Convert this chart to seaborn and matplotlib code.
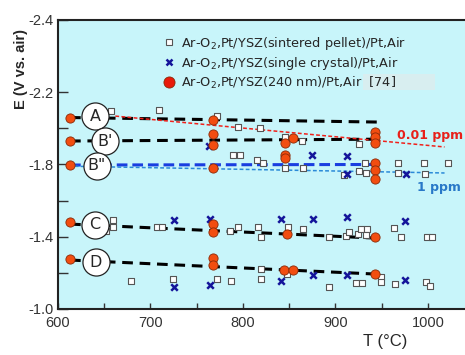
import matplotlib
matplotlib.use("Agg")
import matplotlib.pyplot as plt
from matplotlib.lines import Line2D
from matplotlib.patches import Rectangle
import seaborn as sns

# ---- data -------------------------------------------------------------
# Ar-O2,Pt/YSZ(sintered pellet)/Pt,Air  (open squares)
pellet_T = [657, 709, 772, 795, 789, 797, 818, 845, 864, 926, 815, 822, 845, 865,
            909, 926, 932, 933, 968, 968, 996, 997, 1022,
            659, 659, 652, 707, 713, 786, 795, 816, 820, 849, 865, 893, 911, 915,
            924, 928, 934, 933, 963, 971, 999, 1004,
            679, 724, 772, 787, 820, 820, 848, 893, 922, 929, 949, 949, 964, 998, 1002]
pellet_E = [-2.096, -2.102, -2.068, -2.008, -1.852, -1.852, -2.002, -1.952, -1.930,
            -1.913, -1.825, -1.808, -1.780, -1.780, -1.742, -1.764, -1.808, -1.753,
            -1.808, -1.753, -1.808, -1.747, -1.808,
            -1.493, -1.454, -1.432, -1.454, -1.454, -1.432, -1.454, -1.454, -1.398,
            -1.454, -1.443, -1.398, -1.404, -1.426, -1.415, -1.443, -1.443, -1.410,
            -1.448, -1.398, -1.398, -1.398,
            -1.155, -1.166, -1.166, -1.155, -1.221, -1.166, -1.194, -1.122, -1.144,
            -1.144, -1.177, -1.149, -1.138, -1.149, -1.127]

# Ar-O2,Pt/YSZ(single crystal)/Pt,Air  (blue crosses)
crystal_T = [763, 875, 913, 913, 976,
             725, 764, 841, 876, 912, 975,
             725, 764, 841, 876, 912, 975]
crystal_E = [-1.902, -1.852, -1.847, -1.747, -1.747,
             -1.493, -1.498, -1.498, -1.498, -1.509, -1.487,
             -1.122, -1.133, -1.155, -1.188, -1.188, -1.160]

# Ar-O2,Pt/YSZ(240 nm)/Pt,Air [74]  (red circles)
film_T = [613, 613, 613, 613, 613,
          768, 768, 768, 768, 768, 768, 768, 768,
          845, 845, 845, 854, 848, 844, 854,
          943, 943, 943, 943, 943, 943, 943, 943]
film_E = [-2.057, -1.930, -1.797, -1.482, -1.277,
          -2.046, -1.969, -1.908, -1.781, -1.470, -1.426, -1.282, -1.243,
          -1.919, -1.852, -1.836, -1.947, -1.415, -1.216, -1.216,
          -1.980, -1.952, -1.919, -1.808, -1.770, -1.720, -1.398, -1.194]

# trend lines of the 240 nm series
trend_names = ["A", "B'", 'B"', "C", "D"]
trend_T0 = [613, 613, 613, 613, 613]
trend_T1 = [945, 943, 941, 941, 941]
trend_E0 = [-2.060, -1.930, -1.797, -1.470, -1.271]
trend_E1 = [-2.035, -1.940, -1.800, -1.393, -1.194]

# oxygen partial-pressure reference lines
ppm_labels = ["0.01 ppm", "1 ppm"]
ppm_T0 = [662, 618]
ppm_T1 = [1018, 1018]
ppm_E0 = [-2.068, -1.790]
ppm_E1 = [-1.897, -1.753]

x_ticks = [600, 700, 800, 900, 1000]
x_tick_labels = ["600", "700", "800", "900", "1000"]
y_ticks = [-2.6, -2.2, -1.8, -1.4, -1.0]
y_tick_labels = ["-2.4", "-2.2", "-1.8", "-1.4", "-1.0"]

legend_labels = [r"Ar-O$_2$,Pt/YSZ(sintered pellet)/Pt,Air",
                 r"Ar-O$_2$,Pt/YSZ(single crystal)/Pt,Air",
                 r"Ar-O$_2$,Pt/YSZ(240 nm)/Pt,Air  [74]"]

# ---- figure ----------------------------------------------------------
sns.set_theme(style="ticks")
plt.rcParams["font.family"] = ["DejaVu Sans"]
axis_font = ["Liberation Sans", "DejaVu Sans"]

fig = plt.figure(figsize=(4.65, 3.55), dpi=100)
ax = fig.add_axes([0.1247, 0.1296, 0.885, 0.8141])
ax.set_facecolor("#c8f5fa")

ax.set_xlim(600, 1045)
ax.set_ylim(-1.0, -2.6)

# trend lines
for t0, t1, e0, e1, name in zip(trend_T0, trend_T1, trend_E0, trend_E1, trend_names):
    if name == 'B"':
        ax.plot([t0, t1], [e0, e1], color="#1a3ee0", lw=2.2, dashes=(3.5, 1.6), zorder=3)
    else:
        ax.plot([t0, t1], [e0, e1], color="black", lw=2.2, dashes=(3.5, 2.2), zorder=3)

ppm_colors = ["#f0201a", "#2a8ad8"]
for t0, t1, e0, e1, c in zip(ppm_T0, ppm_T1, ppm_E0, ppm_E1, ppm_colors):
    ax.plot([t0, t1], [e0, e1], color=c, lw=1.1, dashes=(2.5, 1.5), zorder=3)

ax.text(1002, -1.963, ppm_labels[0], color="#e8201a", fontsize=9,
        fontweight="bold", ha="center", va="center", zorder=6)
ax.text(1012, -1.675, ppm_labels[1], color="#2878c8", fontsize=9,
        fontweight="bold", ha="center", va="center", zorder=6)

# data series
sns.scatterplot(x=pellet_T, y=pellet_E, marker="s", s=22, facecolor="white",
                edgecolor="#555555", linewidth=0.8, ax=ax, zorder=4)
sns.scatterplot(x=crystal_T, y=crystal_E, marker="x", s=22, color="#14149a",
                linewidth=1.8, ax=ax, zorder=4)
sns.scatterplot(x=film_T, y=film_E, marker="o", s=44, facecolor="#f24d10",
                edgecolor="#8a2a08", linewidth=0.6, ax=ax, zorder=5)

# circled curve labels
lab_T = [640, 651, 642, 640, 641]
lab_E = [-2.068, -1.930, -1.792, -1.465, -1.260]
ax.scatter(lab_T, lab_E, s=380, facecolor="white", edgecolor="#222222",
           linewidth=0.9, zorder=6)
for t, e, name in zip(lab_T, lab_E, trend_names):
    ax.text(t, e, name, fontsize=11.5, ha="center", va="center", zorder=7)

# axes styling
ax.set_xticks(x_ticks)
ax.set_xticklabels(x_tick_labels, fontsize=10.5, family=axis_font)
ax.set_xticks([650, 750, 850, 950], minor=True)
ax.set_yticks(y_ticks)
ax.set_yticklabels(y_tick_labels, fontsize=10.5, family=axis_font)
ax.set_yticks([-2.0, -1.6, -1.2], minor=True)
ax.tick_params(axis="x", which="both", direction="in", length=4.5, width=1.0,
               colors="#333333", labelcolor="#333333", pad=5, top=False)
ax.tick_params(axis="y", which="both", direction="in", length=7, width=1.0,
               colors="#333333", labelcolor="#333333", pad=3, right=False)
for side in ["left", "bottom", "top"]:
    ax.spines[side].set_linewidth(1.5)
    ax.spines[side].set_color("#222222")
ax.spines["right"].set_visible(False)

ax.set_xlabel("T (°C)", fontsize=12, family=axis_font)
ax.xaxis.set_label_coords(0.794, -0.088)
ax.set_ylabel("E (V vs. air)", fontsize=10.5, fontweight="bold", family=axis_font)
ax.yaxis.set_label_coords(-0.073, 0.83)

# legend
handles = [
    Line2D([], [], ls="none", marker="s", ms=5, mfc="white", mec="#555555", mew=0.8),
    Line2D([], [], ls="none", marker="x", ms=5, mec="#14149a", mew=1.8),
    Line2D([], [], ls="none", marker="o", ms=8, mfc="#e81a0a", mec="#8a2a08", mew=0.6),
]
ax.add_patch(Rectangle((0.741, 0.757), 0.175, 0.057, transform=ax.transAxes,
                       facecolor="#d8eef0", edgecolor="none", zorder=1))
ax.legend(handles, legend_labels, loc="upper left", bbox_to_anchor=(0.235, 0.972),
          frameon=False, fontsize=9.3, handletextpad=0.3, labelspacing=0.25,
          borderpad=0, handlelength=1.2)

fig.savefig("out.png", dpi=100)
